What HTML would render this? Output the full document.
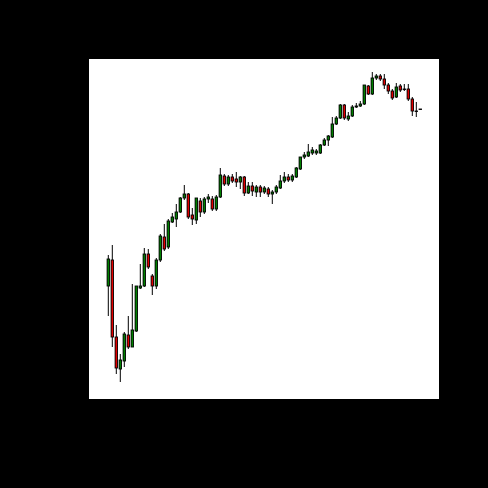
<!DOCTYPE html>
<html><head><meta charset="utf-8"><style>
html,body{margin:0;padding:0;background:#000;}
svg{display:block;}
</style></head><body>
<svg id="chart" width="488" height="488">
<rect x="0" y="0" width="488" height="488" fill="#000"/>
<rect x="89" y="59" width="350" height="340" fill="#fff"/>
<g id="candles"></g>
</svg>
<script>
const opens  = [113,139,62,30,38,64,52,68,111,113,145,123,113,139,162,152,177,180,187,201,205,184,179,198,187,200,200,190,202,223,215,222,220,217,222,206,213,207,212,207,210,205,207,211,218,222,219,222,230,242,243,246,246,246,254,259,262,275,281,294,280,283,292,293,295,313,305,321,323,320,314,308,302,313,310,310,300,288,290];
const closes = [140,62,31,39,65,52,69,113,113,145,132,113,139,163,150,178,182,187,201,205,182,180,201,187,200,202,190,202,224,215,222,218,217,222,206,213,208,212,207,211,205,207,212,218,222,219,223,231,242,244,247,249,248,254,259,263,275,281,294,281,283,292,293,295,314,305,321,323,320,314,308,301,312,309,310,300,288,288,290];
const highs  = [144,154,74,45,67,83,115,113,135,151,150,125,141,165,175,180,186,195,202,214,206,191,201,201,202,205,203,204,231,225,224,225,227,223,223,217,217,214,214,213,212,209,214,224,227,225,225,232,242,247,255,252,250,255,261,264,282,283,295,295,287,294,296,298,314,314,327,325,325,325,316,310,316,315,315,315,302,297,290];
const lows   = [83,52,25,17,32,50,52,67,110,112,130,104,110,137,148,150,176,172,186,199,180,174,175,182,185,196,188,188,201,213,213,216,212,210,203,205,203,202,202,205,202,195,205,210,216,217,217,221,229,240,242,244,244,245,253,253,261,274,280,279,278,282,291,292,294,304,304,319,318,310,305,299,301,307,308,298,283,282,290];
const yMin = 0, yMax = 340;
const plotL = 89, plotT = 59, plotH = 340;
const x0 = 108.3, step = 4;
function xScale(i){ return x0 + i*step; }
function yScale(v){ return plotT + plotH - (v - yMin)/(yMax - yMin)*plotH; }
const g = document.getElementById('candles');
const NS = 'http://www.w3.org/2000/svg';
for (let i=0;i<opens.length;i++){
  const x = xScale(i);
  const wick = document.createElementNS(NS,'line');
  wick.setAttribute('x1',x); wick.setAttribute('x2',x);
  wick.setAttribute('y1',yScale(highs[i])); wick.setAttribute('y2',yScale(lows[i]));
  wick.setAttribute('stroke','#000'); wick.setAttribute('stroke-width','1');
  
  
  g.appendChild(wick);
  const up = closes[i] >= opens[i];
  const top = yScale(Math.max(opens[i],closes[i]));
  const bot = yScale(Math.min(opens[i],closes[i]));
  const r = document.createElementNS(NS,'rect');
  r.setAttribute('x',x-1.2); r.setAttribute('width',2.4);
  r.setAttribute('y',top); r.setAttribute('height',Math.max(0.5,bot-top));
  r.setAttribute('fill', up ? '#008000' : '#e00000');
  r.setAttribute('stroke','#000'); r.setAttribute('stroke-width','0.9');
  
  
  g.appendChild(r);
}
</script>
</body></html>
